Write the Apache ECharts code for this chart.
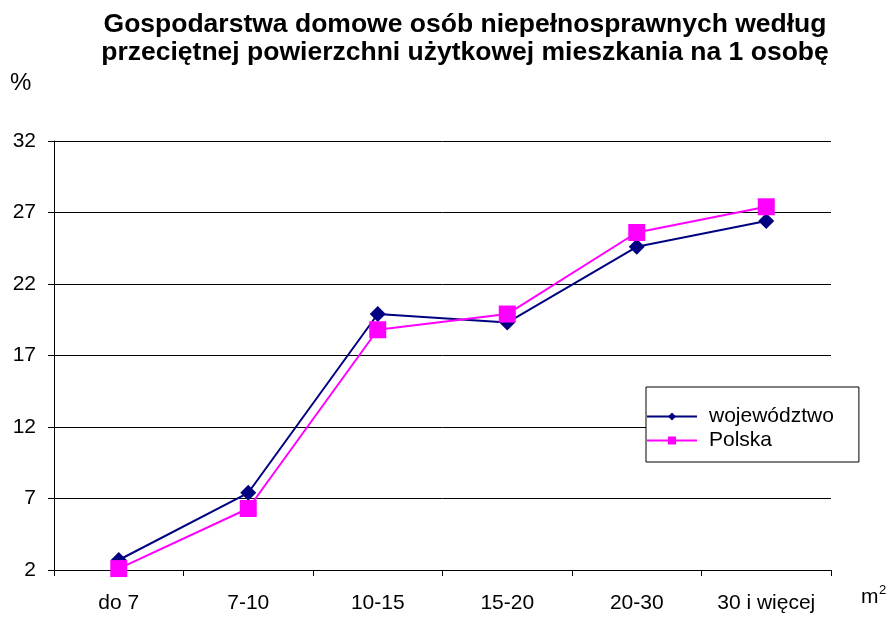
<!DOCTYPE html>
<html>
<head>
<meta charset="utf-8">
<script src="https://cdn.jsdelivr.net/npm/echarts@6/dist/echarts.min.js"></script>
<style>html,body{margin:0;padding:0;background:#fff}#c{width:887px;height:617px}</style>
</head>
<body>
<div id="c"></div>
<script>
var categories = ['do 7', '7-10', '10-15', '15-20', '20-30', '30 i więcej'];
var wojewodztwo = [2.7, 7.4, 19.9, 19.3, 24.6, 26.4];
var polska = [2.1, 6.3, 18.8, 19.9, 25.6, 27.4];
var seriesNames = ['województwo', 'Polska'];
var titleLines = ['Gospodarstwa domowe osób niepełnosprawnych według', 'przeciętnej powierzchni użytkowej mieszkania na 1 osobę'];

var chart = echarts.init(document.getElementById('c'), null, {renderer: 'canvas'});
var font = 'Liberation Sans, Arial, sans-serif';
chart.setOption({
  animation: false,
  backgroundColor: '#fff',
  textStyle: {fontFamily: font},
  grid: {left: 54, right: 56, top: 141, bottom: 47, containLabel: false},
  graphic: [
    {type: 'text', x: 465, y: 11, z: 10, style: {
      text: titleLines.join('\n'), fill: '#000', textAlign: 'center', textVerticalAlign: 'top',
      font: 'bold 26.5px ' + font, lineHeight: 28 }},
    {type: 'text', x: 10, y: 71, style: {text: '%', fill: '#000', font: '24px ' + font, textVerticalAlign: 'top'}},
    {type: 'text', x: 861, y: 587, style: {text: 'm', fill: '#000', font: '21px ' + font, textVerticalAlign: 'top'}},
    {type: 'text', x: 879, y: 584, style: {text: '2', fill: '#000', font: '13px ' + font, textVerticalAlign: 'top'}}
  ],
  legend: {
    orient: 'vertical',
    left: 646, top: 387,
    itemWidth: 50, itemHeight: 10, itemGap: 3,
    padding: [19, 25, 11, 0],
    backgroundColor: '#fff',
    borderColor: '#000', borderWidth: 1, borderRadius: 0,
    textStyle: {fontSize: 21, color: '#000', fontFamily: font, padding: [0, 0, 0, 7]},
    data: seriesNames
  },
  xAxis: {
    type: 'category',
    data: categories,
    boundaryGap: true,
    axisLine: {lineStyle: {color: '#000', width: 1}},
    axisTick: {show: true, length: 6, lineStyle: {color: '#000'}},
    axisLabel: {color: '#000', fontSize: 21, margin: 23, fontFamily: font},
    splitLine: {show: false}
  },
  yAxis: {
    type: 'value',
    min: 2, max: 32, interval: 5,
    axisLine: {show: true, lineStyle: {color: '#000', width: 1}},
    axisTick: {show: true, length: 6, lineStyle: {color: '#000'}},
    axisLabel: {color: '#000', fontSize: 21, margin: 18, fontFamily: font},
    splitLine: {show: true, lineStyle: {color: '#000', width: 1}}
  },
  series: [
    {name: seriesNames[0], type: 'line', data: wojewodztwo,
     symbol: 'diamond', symbolSize: 16,
     lineStyle: {color: '#000080', width: 2},
     itemStyle: {color: '#000080'}, z: 3},
    {name: seriesNames[1], type: 'line', data: polska,
     symbol: 'rect', symbolSize: 17,
     lineStyle: {color: '#FF00FF', width: 2},
     itemStyle: {color: '#FF00FF'}, z: 4}
  ]
});
</script>
</body>
</html>
